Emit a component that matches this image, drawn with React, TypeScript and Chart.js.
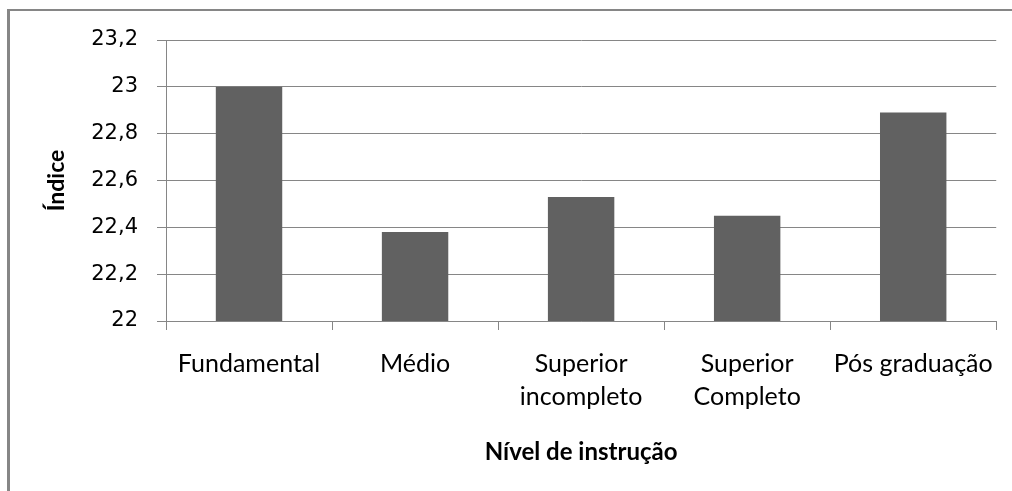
import React, { useEffect, useRef } from "react";
import { Chart, registerables } from "chart.js";

Chart.register(...registerables);

// Education level categories (multi-line labels are arrays)
const categories: (string | string[])[] = [
  "Fundamental",
  "Médio",
  ["Superior", "incompleto"],
  ["Superior", "Completo"],
  "Pós graduação",
];

// Index value for each education level
const indexValues: number[] = [23.0, 22.38, 22.53, 22.45, 22.89];

// Y axis range and tick step
const yMin = 22;
const yMax = 23.2;
const yStep = 0.2;

const yTitle = "Índice";
const xTitle = "Nível de instrução";

const W = 1012;
const H = 491;
const GRAY = "#868686";
const BAR = "#616161";

// White background plus the partial outer frame (top and left edges)
const framePlugin = {
  id: "frame",
  beforeDraw(chart: Chart) {
    const ctx = chart.ctx;
    ctx.save();
    ctx.fillStyle = "#ffffff";
    ctx.fillRect(0, 0, chart.width, chart.height);
    ctx.fillStyle = GRAY;
    ctx.fillRect(7, 9, 3, chart.height - 9);
    ctx.fillRect(7, 9, chart.width - 7, 2);
    ctx.restore();
  },
};

export default function App() {
  const canvasRef = useRef<HTMLCanvasElement | null>(null);

  useEffect(() => {
    if (!canvasRef.current) return;
    const chart = new Chart(canvasRef.current, {
      type: "bar",
      data: {
        labels: categories,
        datasets: [
          {
            data: indexValues,
            backgroundColor: BAR,
            borderWidth: 0,
            barPercentage: 0.4,
            categoryPercentage: 1,
          },
        ],
      },
      options: {
        responsive: false,
        animation: false,
        devicePixelRatio: 1,
        layout: { padding: { top: 40, right: 13, bottom: 0, left: 0 } },
        plugins: {
          legend: { display: false },
          tooltip: { enabled: false },
        },
        scales: {
          x: {
            offset: true,
            grid: {
              offset: true,
              drawOnChartArea: false,
              drawTicks: true,
              tickLength: 9,
              color: GRAY,
              lineWidth: 1,
            },
            border: { display: true, color: GRAY, width: 1 },
            ticks: {
              color: "#000000",
              padding: 18,
              maxRotation: 0,
              autoSkip: false,
              font: { family: "Lato", size: 25, lineHeight: 1.3 },
            },
            title: {
              display: true,
              text: xTitle,
              color: "#000000",
              font: { family: "Lato", size: 24, weight: "bold", lineHeight: 1.2 },
              padding: { top: 0, bottom: 24 },
            },
            afterFit(scale: any) {
              scale.height = H - 321;
            },
          },
          y: {
            min: yMin,
            max: yMax,
            grid: {
              color: GRAY,
              lineWidth: 1,
              drawTicks: true,
              tickLength: 9,
            },
            border: { display: true, color: GRAY, width: 1 },
            ticks: {
              stepSize: yStep,
              color: "#000000",
              padding: 19,
              font: { family: "DejaVu Sans", size: 21 },
              callback: (v: any) => {
                const n = Math.round(Number(v) * 10) / 10;
                return n.toString().replace(".", ",");
              },
            },
            title: {
              display: true,
              text: yTitle,
              color: "#000000",
              font: { family: "Lato", size: 23, weight: "bold", lineHeight: 1.2 },
              padding: { top: 43, bottom: 0 },
            },
            afterFit(scale: any) {
              scale.width = 166;
            },
          },
        },
      },
      plugins: [framePlugin],
    });
    return () => chart.destroy();
  }, []);

  return (
    <div style={{ position: "absolute", left: 0, top: 0, width: W, height: H }}>
      <canvas ref={canvasRef} width={W} height={H} style={{ display: "block" }} />
    </div>
  );
}
